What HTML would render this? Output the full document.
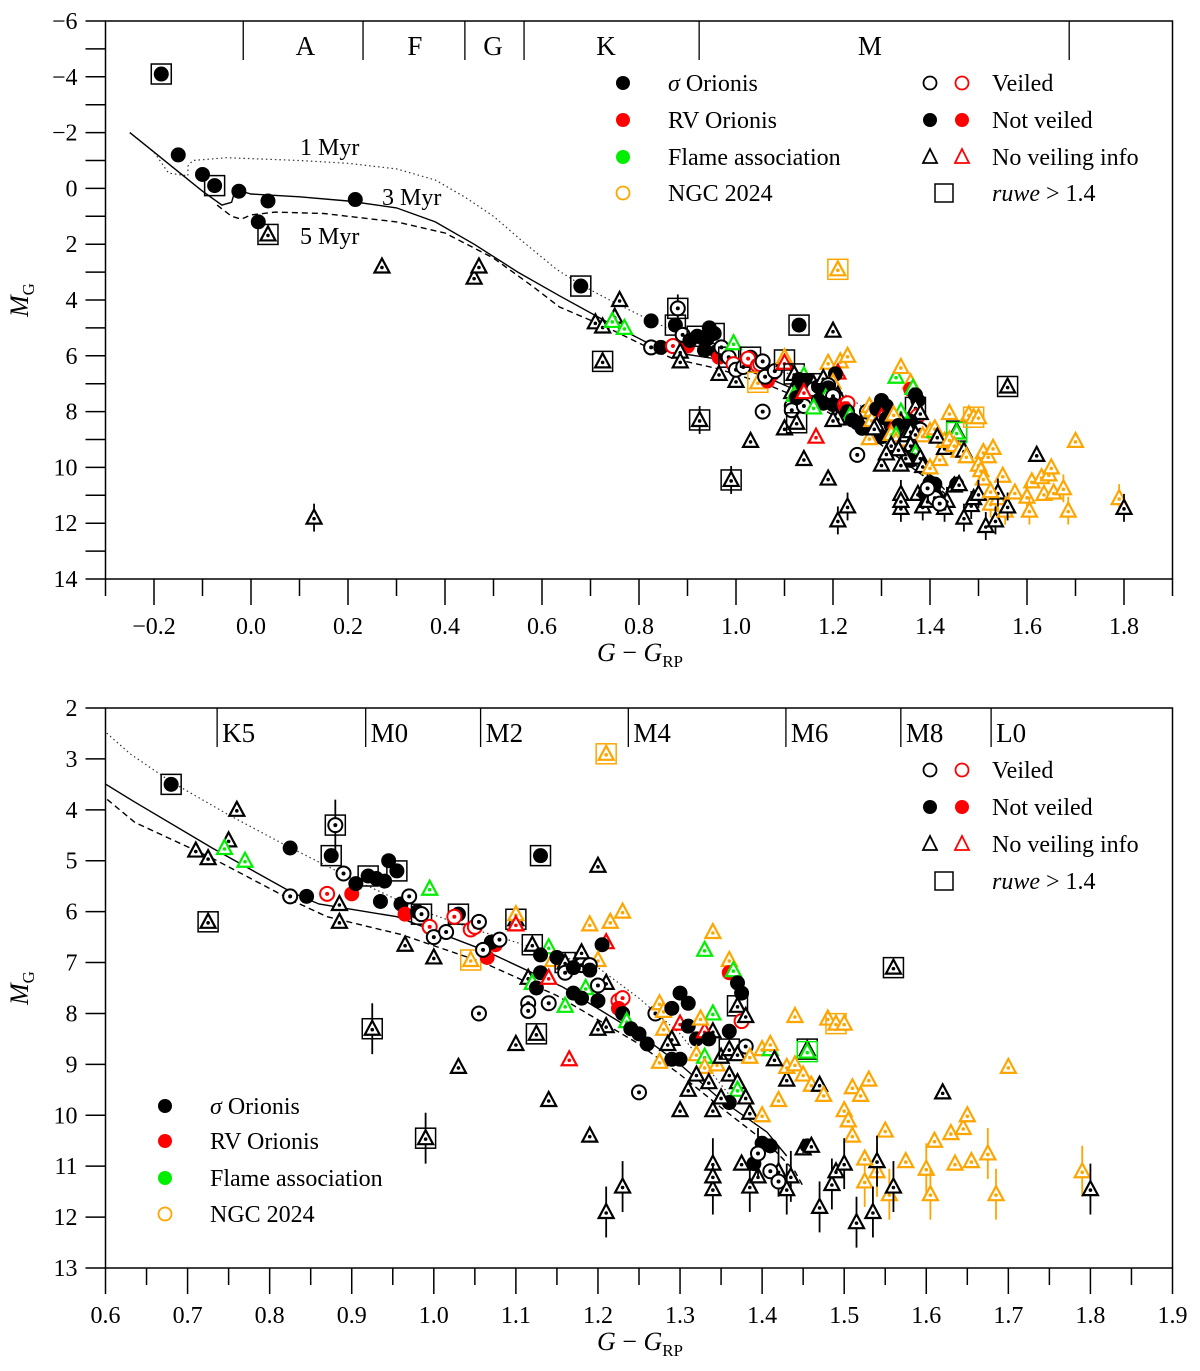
<!DOCTYPE html>
<html><head><meta charset="utf-8"><title>CMD</title>
<style>
html,body{margin:0;padding:0;background:#fff;}
svg{display:block;font-family:"Liberation Serif",serif;}
</style></head>
<body>
<svg id="chart" width="1200" height="1371" viewBox="0 0 1200 1371" xmlns="http://www.w3.org/2000/svg">
<defs>
<clipPath id="clipTop"><rect x="105.5" y="21" width="1067" height="558"/></clipPath>
<clipPath id="clipBot"><rect x="105.5" y="708" width="1067" height="560"/></clipPath>
</defs>
<g id="layer"></g>
</svg>
<script>
// ---- data ----
const colorIndex = [
 -0.185,-0.15,-0.1,-0.075,-0.025,0.035,0.015,0.035,0.215,0.27,
 0.46,0.47,0.13,0.68,0.76,0.75,0.71,0.725,0.745,0.77,
 0.725,0.825,0.88,0.875,0.825,0.845,0.87,0.90,0.885,0.885,
 0.89,0.905,0.92,0.93,0.94,0.955,0.945,0.96,0.935,0.965,
 0.98,0.97,0.985,0.965,0.995,1.0,1.0,1.015,0.995,1.03,
 1.025,1.045,1.05,1.055,1.045,1.065,1.075,1.07,1.06,1.08,
 1.03,1.055,1.1,1.115,1.115,1.14,1.125,1.14,1.165,1.19,
 0.925,0.99,1.13,1.20,1.10,1.10,1.10,1.12,1.14,1.145,
 1.13,1.15,1.16,1.18,1.13,1.16,1.17,1.115,1.12,1.125,
 1.14,1.21,1.19,1.215,1.23,1.21,1.205,1.18,1.2,1.19,
 1.19,1.21,1.185,1.2,1.17,1.18,1.2,1.16,1.225,1.23,
 1.225,1.23,1.235,1.24,1.21,1.2,1.25,1.26,1.25,1.27,
 1.275,1.28,1.28,1.29,1.30,1.31,1.3,1.31,1.32,1.29,
 1.29,1.30,1.275,1.285,1.33,1.34,1.36,1.36,1.365,1.37,
 1.375,1.37,1.375,1.38,1.36,1.34,1.34,1.33,1.325,1.335,
 1.32,1.33,1.33,1.345,1.35,1.36,1.38,1.37,1.385,1.40,
 1.41,1.36,1.37,1.37,1.36,1.35,1.34,1.30,1.32,1.335,
 1.31,1.38,1.385,1.40,1.42,1.43,1.43,1.41,1.415,1.44,
 1.455,1.455,1.44,1.45,1.46,1.47,1.475,1.48,1.49,1.50,
 1.51,1.52,1.53,1.50,1.505,1.51,1.55,1.62,1.61,1.63,
 1.645,1.65,1.70,1.79,1.80,1.34,1.34,1.34,1.375,1.39,
 1.385,1.395,1.41,1.40,1.42,1.435,1.43,1.45,1.455,1.46,
 1.47,1.485,1.49,1.50,1.515,1.525,1.54,1.54,1.535,1.555,
 1.56,1.575,1.60,1.605,1.635,1.655,1.675,1.685,1.525,1.41,
 1.42,1.395,1.21,1.23,1.56
];
const absMagG = [
 -4.1,-1.2,-0.5,-0.1,0.1,0.45,1.2,1.65,0.4,2.8,
 3.2,2.8,11.8,3.5,4.0,4.6,4.8,4.95,4.75,5.0,
 6.2,4.75,4.3,4.9,5.7,5.7,5.65,5.65,5.85,6.2,
 5.25,5.45,5.3,5.35,5.4,5.2,5.0,5.85,5.8,6.05,
 6.0,5.7,6.05,6.65,6.3,6.9,6.5,6.4,5.55,6.05,
 6.1,6.35,6.3,6.2,6.95,6.9,6.65,6.6,6.75,6.55,
 9.05,8.0,8.6,7.8,7.95,7.8,8.4,9.7,8.9,10.4,
 8.3,10.45,4.9,5.1,6.15,6.05,6.25,6.65,6.7,6.95,
 6.85,6.9,7.0,7.05,7.2,7.2,7.1,7.3,7.4,7.5,
 7.3,2.9,6.25,6.2,6.0,6.6,6.65,6.8,6.95,7.05,
 7.15,7.4,7.5,7.45,7.6,7.7,7.75,7.85,7.75,7.7,
 7.9,8.0,8.15,8.3,8.25,8.3,8.4,8.6,9.55,8.0,
 7.8,7.95,8.3,7.9,7.6,7.8,8.2,8.25,8.5,8.5,
 8.9,8.9,8.95,8.6,6.75,6.4,6.95,7.2,7.15,7.4,
 7.6,7.85,8.15,8.05,8.35,8.0,8.35,8.35,8.1,8.5,
 8.8,8.85,9.05,9.0,8.85,8.7,8.65,8.8,8.85,8.7,
 8.7,9.2,9.35,9.5,9.75,9.65,9.9,9.9,9.2,9.35,
 9.5,9.65,9.95,10.0,9.7,9.3,9.05,8.6,8.9,8.05,
 8.7,8.75,9.0,9.2,9.4,9.4,9.6,8.1,8.2,8.2,
 9.45,9.6,9.3,9.9,10.1,10.4,10.3,9.55,10.5,10.35,
 10.25,10.0,9.05,11.1,11.45,10.95,11.45,11.2,10.95,10.95,
 11.4,11.2,10.6,10.55,11.1,11.2,11.45,10.65,10.6,10.6,
 11.8,11.35,11.1,10.95,12.1,11.3,11.1,10.9,11.9,11.55,
 11.4,10.9,11.05,11.55,10.95,10.9,10.75,11.55,10.85,11.1,
 11.3,10.75,11.9,11.4,7.1
];
// s = sigma Orionis, r = RV Orionis, f = Flame, n = NGC 2024
const member = ("ssssssssss"+"ssssssssff"+"ssssssrrss"+"sssssssssr"+"ssssrsssfs"+
 "rrrsnrrsss"+"ssssssssrs"+"sssssnrsfn"+"ssssssssfs"+"rnnnnrssns"+
 "ssfssssfrr"+"rsfsssssss"+"nnnsssrsss"+"ssnsfnnrfs"+"ssrssfsrns"+
 "nfnnssssnn"+"fssfssssss"+"sssnnsnnsn"+"sfnnnsnnnn"+"nnnnnnnsnn"+
 "nnnnssssss"+"ssssssssss"+"sssssnnssn"+"snnnnnnnns"+"sssss").split('');
// v = veiled, n = not veiled, u = no veiling info
const veiling = ("nnnnnnnunu"+"uuunuuuuuu"+"unvnvnvnuu"+"vnnnnnnnnn"+"nvvuvuvvun"+
 "vvvvunnnvv"+"uvuvvvuuuu"+"uunuuuuuuu"+"nnuvnvnuun"+"uuuuuunuuv"+
 "nuuvnnnuvv"+"nnunuunnvv"+"uuunnnunnu"+"nnuuuuunun"+"nuvunuuuun"+
 "uuuuuuvuuu"+"uuuunuuuuu"+"uuuuuuuuuu"+"uuuuuuuuuu"+"uuuuuuuuuu"+
 "uuuuuuuuun"+"uunnuuuunu"+"uuuuuuuuuu"+"uuuuuuuuuv"+"vvuuu").split('');
// 0 none, 1 ruwe>1.4, 2 error bar, 3 both
const flags = ("1001000100"+"0021000000"+"1031000000"+"0010010000"+"0010000001"+
 "0000100000"+"0000001000"+"3310100100"+"0010000000"+"0100000000"+
 "0000000000"+"0000000000"+"0000000000"+"0000000000"+"0100000000"+
 "0000010000"+"0000000000"+"0000000000"+"1100000010"+"0000000000"+
 "0002222000"+"2000222000"+"2202222222"+"2022002200"+"02221").split('').map(Number);

const specTopEdges = [-0.016,0.231,0.441,0.563,0.924,1.687];
const specTopLabels = ["A","F","G","K","M"];
const specTopLabelX = [0.112,0.338,0.499,0.732,1.276];
const specBotEdges = [0.736,0.917,1.057,1.237,1.429,1.569,1.679];
const specBotLabels = ["K5","M0","M2","M4","M6","M8","L0"];

const iso1X = [-0.25,-0.2,-0.17,-0.13,-0.13,-0.12,-0.05,0.1,0.2,0.3,0.38,0.44,0.5,0.56,0.63,0.68,0.75,0.82,0.9,0.98,1.05,1.12,1.2,1.25,1.3,1.33,1.36];
const iso1Y = [-2,-1.3,-0.55,-0.45,-0.8,-1.0,-1.1,-1.0,-0.9,-0.7,-0.3,0.3,1.0,1.9,2.9,3.45,4.1,4.7,5.35,5.95,6.35,6.7,7.1,7.7,8.4,9.0,9.6];
const iso3X = [-0.25,-0.2,-0.15,-0.1,-0.06,-0.04,-0.035,-0.02,0.0,0.1,0.2,0.3,0.38,0.46,0.55,0.636,0.73,0.828,0.86,0.955,1.06,1.157,1.25,1.3,1.35,1.406,1.43];
const iso3Y = [-2,-1.3,-0.6,0.1,0.6,0.5,0.2,0.1,0.2,0.3,0.45,0.7,1.2,2.0,3.0,3.85,4.75,5.63,5.85,6.1,6.75,7.48,8.4,9.0,9.7,10.33,10.8];
const iso5X = [-0.07,-0.04,-0.02,0.0,0.05,0.15,0.3,0.4,0.5,0.58,0.636,0.73,0.83,0.87,0.96,1.06,1.15,1.25,1.3,1.35,1.41,1.44,1.45];
const iso5Y = [0.6,1.0,1.1,0.95,0.85,0.9,1.2,1.6,2.5,3.5,4.25,4.95,5.8,6.1,6.45,7.0,7.65,8.6,9.2,9.85,10.6,11.1,11.4];

const topYTicks = [-6,-4,-2,0,2,4,6,8,10,12,14];
const topXTicks = [-0.2,0.0,0.2,0.4,0.6,0.8,1.0,1.2,1.4,1.6,1.8];
const botYTicks = [2,3,4,5,6,7,8,9,10,11,12,13];
const botXTicks = [0.6,0.7,0.8,0.9,1.0,1.1,1.2,1.3,1.4,1.5,1.6,1.7,1.8,1.9];

// ---- rendering ----
const NS="http://www.w3.org/2000/svg";
const root=document.getElementById('layer');
const COL={s:"#000000",r:"#ff0000",f:"#00ee00",n:"#ffa500"};
function el(tag,attrs,parent){const e=document.createElementNS(NS,tag);for(const k in attrs)e.setAttribute(k,attrs[k]);(parent||root).appendChild(e);return e;}

const panels=[
 {name:'top',L:105.5,R:1172.5,T:21,B:579,x0:-0.3,x1:1.9,y0:-6,y1:14,clip:'clipTop',errLen:0.5},
 {name:'bottom',L:105.5,R:1172.5,T:708,B:1268,x0:0.6,x1:1.9,y0:2,y1:13,clip:'clipBot',errLen:0.5}
];
panels.forEach(p=>{
 p.sx=v=>p.L+(v-p.x0)/(p.x1-p.x0)*(p.R-p.L);
 p.sy=v=>p.T+(v-p.y0)/(p.y1-p.y0)*(p.B-p.T);
});

function axisText(x,y,txt,anchor,parent,name){
 const t=el('text',{x:x,y:y,'font-size':24,'text-anchor':anchor||'middle',fill:'#000'},parent);
 t.textContent=txt;
 
 
 return t;
}

function drawMarker(g,px,py,grp,veil,flag,p){
 const c=COL[grp];
 if(flag===2||flag===3){
  const l=el('line',{x1:px,x2:px,y1:py-p.errLen*(p.B-p.T)/(p.y1-p.y0),y2:py+p.errLen*(p.B-p.T)/(p.y1-p.y0),stroke:c,'stroke-width':1.8},g);
  
  
 }
 let m;
 if(veil==='n'){
  m=el('circle',{cx:px,cy:py,r:7.5,fill:c},g);
 } else if(veil==='v'){
  m=el('g',{},g);
  el('circle',{cx:px,cy:py,r:7,fill:'#fff',stroke:c,'stroke-width':2},m);
  el('circle',{cx:px,cy:py,r:2,fill:c},m);
 } else {
  m=el('g',{},g);
  el('path',{d:`M${px},${py-8} L${px+7.5},${py+6} L${px-7.5},${py+6} Z`,fill:'#fff',stroke:c,'stroke-width':2.2,'stroke-linejoin':'miter'},m);
  el('circle',{cx:px,cy:py+1,r:1.8,fill:c},m);
 }
 
 
 if(flag===1||flag===3){
  const s=el('rect',{x:px-10,y:py-10,width:20,height:20,fill:'none',stroke:c,'stroke-width':1.5},g);
  
  
 }
}

function isoPath(p,xs,ys){
 let d='';
 for(let i=0;i<xs.length;i++)d+=(i?'L':'M')+p.sx(xs[i]).toFixed(1)+','+p.sy(ys[i]).toFixed(1);
 return d;
}

panels.forEach(p=>{
 const g=el('g',{});
 
 
 // frame
 const fr=el('rect',{x:p.L,y:p.T,width:p.R-p.L,height:p.B-p.T,fill:'none',stroke:'#000','stroke-width':1.5},g);
 
 
 // y ticks
 const yt=p.name==='top'?topYTicks:botYTicks;
 const ymin=p.name==='top'?1:1;
 for(let v=p.y0;v<=p.y1+1e-9;v+=ymin){
  const y=p.sy(v);
  el('line',{x1:p.L-20,x2:p.L,y1:y,y2:y,stroke:'#000','stroke-width':1.5},g);
 }
 yt.forEach(v=>{
  const lab=v<0?'\u2212'+Math.abs(v):String(v);
  axisText(p.L-28,p.sy(v)+8,lab,'end',g,'y-tick-label');
 });
 // x ticks
 const xt=p.name==='top'?topXTicks:botXTicks;
 const step=p.name==='top'?0.1:0.05;
 for(let v=p.x0;v<=p.x1+1e-9;v+=step){
  const x=p.sx(v);
  const major=xt.some(t=>Math.abs(t-v)<1e-6);
  el('line',{x1:x,x2:x,y1:p.B,y2:p.B+(major?26:17),stroke:'#000','stroke-width':1.5},g);
 }
 xt.forEach(v=>{
  const lab=(v<0?'\u2212':'')+Math.abs(v).toFixed(1);
  axisText(p.sx(v),p.B+55,lab,'middle',g,'x-tick-label');
 });
 // spectral types
 if(p.name==='top'){
  specTopEdges.forEach(v=>{const x=p.sx(v);el('line',{x1:x,x2:x,y1:p.T,y2:p.T+39,stroke:'#000','stroke-width':1.3},g);});
  specTopLabels.forEach((s,i)=>{const t=el('text',{x:p.sx(specTopLabelX[i]),y:p.T+34,'font-size':27,'text-anchor':'middle'},g);t.textContent=s;});
 } else {
  specBotEdges.forEach((v,i)=>{const x=p.sx(v);el('line',{x1:x,x2:x,y1:p.T,y2:p.T+39,stroke:'#000','stroke-width':1.3},g);
   const t=el('text',{x:x+5,y:p.T+34,'font-size':27},g);t.textContent=specBotLabels[i];});
 }
 // isochrones
 const ig=el('g',{'clip-path':`url(#${p.clip})`},g);
 const i1=el('path',{d:isoPath(p,iso1X,iso1Y),fill:'none',stroke:'#333','stroke-width':1.2,'stroke-dasharray':'1.5,3'},ig);
 
 
 const i3=el('path',{d:isoPath(p,iso3X,iso3Y),fill:'none',stroke:'#000','stroke-width':1.4},ig);
 
 
 const i5=el('path',{d:isoPath(p,iso5X,iso5Y),fill:'none',stroke:'#000','stroke-width':1.4,'stroke-dasharray':'6,4'},ig);
 
 
 // points
 const pg=el('g',{'clip-path':`url(#${p.clip})`},g);
 
 
 for(let i=0;i<colorIndex.length;i++){
  drawMarker(pg,p.sx(colorIndex[i]),p.sy(absMagG[i]),member[i]||'s',veiling[i]||'u',flags[i]||0,p);
 }
 // axis titles
 const yl=el('text',{x:0,y:0,'font-size':26,'text-anchor':'middle',transform:`translate(28,${(p.T+p.B)/2}) rotate(-90)`},g);
 yl.innerHTML='<tspan font-style="italic">M</tspan><tspan font-size="17" dy="6">G</tspan>';
 
 
 const xl=el('text',{x:640,y:p.B+82,'font-size':26,'text-anchor':'middle'},g);
 xl.innerHTML='<tspan font-style="italic">G</tspan> \u2212 <tspan font-style="italic">G</tspan><tspan font-size="17" dy="6">RP</tspan>';
 
 
});

// isochrone labels (top)
[["1 Myr",300,155],["3 Myr",382,205],["5 Myr",300,244]].forEach(a=>{
 const t=el('text',{x:a[1],y:a[2],'font-size':24});t.textContent=a[0];
 
 
});

// legends
function legendMember(x,tx,ys,g){
 const items=[['s','n','\u03c3 Orionis'],['r','n','RV Orionis'],['f','n','Flame association'],['n','v','NGC 2024']];
 items.forEach((it,i)=>{
  const y=ys[i];
  if(it[1]==='n')el('circle',{cx:x,cy:y,r:7,fill:COL[it[0]]},g);
  else el('circle',{cx:x,cy:y,r:6.5,fill:'none',stroke:COL[it[0]],'stroke-width':1.8},g);
  const t=el('text',{x:tx,y:y+8,'font-size':24},g);
  if(i===0)t.innerHTML='<tspan font-style="italic">\u03c3</tspan> Orionis';else t.textContent=it[2];
  
  
 });
}
function legendVeil(ys,g){
 const x1=930,x2=962,tx=992;
 el('circle',{cx:x1,cy:ys[0],r:6.5,fill:'none',stroke:'#000','stroke-width':1.8},g);
 el('circle',{cx:x2,cy:ys[0],r:6.5,fill:'none',stroke:'#f00','stroke-width':1.8},g);
 el('circle',{cx:x1,cy:ys[1],r:7,fill:'#000'},g);
 el('circle',{cx:x2,cy:ys[1],r:7,fill:'#f00'},g);
 [[x1,'#000'],[x2,'#f00']].forEach(a=>el('path',{d:`M${a[0]},${ys[2]-8} L${a[0]+7},${ys[2]+6} L${a[0]-7},${ys[2]+6} Z`,fill:'none',stroke:a[1],'stroke-width':1.8},g));
 el('rect',{x:935,y:ys[3]-9,width:18,height:18,fill:'none',stroke:'#000','stroke-width':1.5},g);
 const labs=['Veiled','Not veiled','No veiling info'];
 labs.forEach((s,i)=>{const t=el('text',{x:tx,y:ys[i]+8,'font-size':24},g);t.textContent=s;});
 const t=el('text',{x:tx,y:ys[3]+8,'font-size':24},g);
 t.innerHTML='<tspan font-style="italic">ruwe</tspan> &gt; 1.4';
 
 
}
const lg1=el('g',{});


legendMember(623,668,[83,120,157,193],lg1);
legendVeil([83,120,157,193],lg1);
const lg2=el('g',{});


legendVeil([770,807,844,881],lg2);
legendMember(165,210,[1106,1141,1178,1214],lg2);
</script>
</body></html>
